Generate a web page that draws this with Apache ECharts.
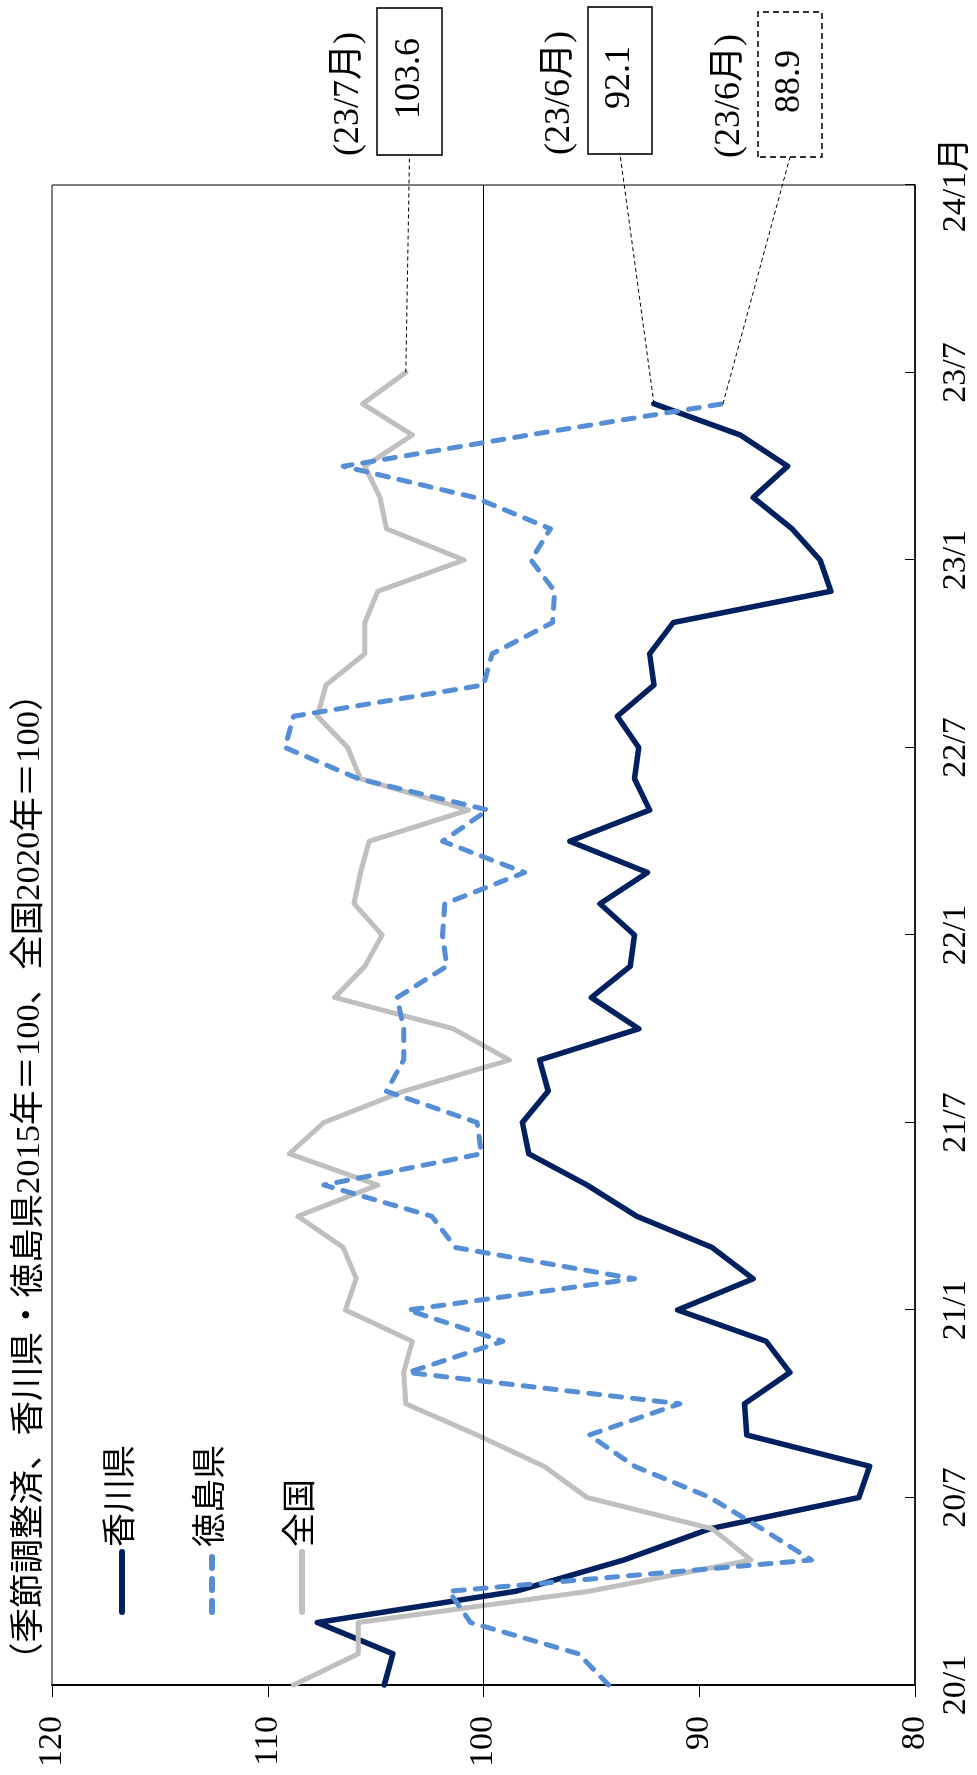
<!DOCTYPE html>
<html><head><meta charset="utf-8">
<script src="https://cdn.jsdelivr.net/npm/echarts@6/dist/echarts.min.js"></script>
<style>
html,body{margin:0;padding:0;background:#fff;}
#wrap{position:relative;width:977px;height:1775px;overflow:hidden;background:#fff;}
#chart{position:absolute;left:0;top:0;width:1775px;height:977px;transform-origin:0 0;transform:translate(0px,1775px) rotate(-90deg);}
</style></head><body><div id="wrap"><div id="chart"></div></div>
<script>
// ---- data (monthly, 2020/1 .. ) ----
const tickLabels = ['20/1','20/7','21/1','21/7','22/1','22/7','23/1','23/7','24/1月'];
const seriesNames = ['香川県','徳島県','全国'];
const kagawa = [104.6,104.2,107.7,98.5,93.5,89.5,82.6,82.1,87.8,87.9,85.8,86.9,
  91.0,87.5,89.4,92.9,95.2,97.9,98.2,97.0,97.4,92.8,95.0,93.2,
  93.0,94.6,92.4,96.0,92.3,93.0,92.8,93.8,92.1,92.3,91.2,83.9,
  84.4,85.7,87.5,85.9,88.1,92.1];
const tokushima = [94.2,95.6,100.6,101.6,84.8,87.1,89.5,93.0,95.1,90.9,103.5,99.1,
  103.5,93.0,101.3,102.4,107.4,100.1,100.3,104.5,103.7,103.7,104.0,101.7,
  101.9,101.8,98.1,101.9,99.8,105.8,109.2,108.8,100.0,99.6,96.8,96.7,
  97.8,96.9,100.4,106.5,97.9,88.9];
const national = [108.8,105.8,105.8,95.1,87.6,89.4,95.2,97.2,100.3,103.6,103.7,103.3,
  106.4,105.9,106.5,108.6,104.9,109.0,107.4,103.7,98.8,101.4,106.9,105.5,
  104.7,106.0,105.7,105.3,100.7,105.7,106.3,107.7,107.3,105.5,105.5,104.9,
  100.9,104.5,104.8,105.5,103.3,105.6,103.6];
const annDates = ['(23/7月)','(23/6月)','(23/6月)'];
const titleText = '（季節調整済、香川県・徳島県2015年＝100、全国2020年＝100）';

// month categories 20/1 .. 24/1
const categories = [];
for (let y = 20; y <= 24; y++) {
  for (let m = 1; m <= 12; m++) {
    if (y === 24 && m > 1) break;
    categories.push(y + '/' + m);
  }
}

const FONT = "'Liberation Serif','Noto Sans CJK JP',serif";
const chart = echarts.init(document.getElementById('chart'), null, {renderer:'canvas', width:1775, height:977});

chart.setOption({
  animation:false,
  backgroundColor:'#fff',
  title:{text:titleText, left:98, top:13, padding:0, textStyle:{fontSize:34.5, fontWeight:'normal', color:'#000', fontFamily:FONT}},
  legend:{orient:'vertical', left:160, top:105, padding:0, itemWidth:60, itemHeight:6, itemGap:56,
    data:seriesNames, itemStyle:{opacity:0},
    lineStyle:{width:6, cap:'round'},
    textStyle:{fontSize:34, color:'#000', fontFamily:FONT, lineHeight:34}},
  grid:{left:90, right:185, top:52, bottom:62, show:true, borderColor:'#000', borderWidth:1, containLabel:false, outerBoundsMode:'none'},
  xAxis:{type:'category', data:categories, boundaryGap:false,
    axisLine:{lineStyle:{color:'#000', width:1.5}},
    axisTick:{inside:true, length:10, interval:(i)=>i%6===0, lineStyle:{color:'#000', width:1}},
    axisLabel:{interval:(i)=>i%6===0, formatter:(v,i)=>tickLabels[i/6], margin:24, fontSize:34, color:'#000', fontFamily:FONT, showMinLabel:true, showMaxLabel:true},
    splitLine:{show:false}},
  yAxis:{type:'value', min:80, max:120, interval:10,
    axisLine:{show:true, lineStyle:{color:'#000', width:2}},
    axisTick:{show:true, length:12, lineStyle:{color:'#000', width:1}},
    axisLabel:{margin:31, fontSize:34, color:'#000', fontFamily:FONT},
    splitLine:{show:false}},
  series:[
    {name:'香川県', type:'line', data:kagawa, symbol:'none', z:3,
      lineStyle:{color:'#002060', width:5.5, cap:'round', join:'round'}, itemStyle:{color:'#002060'},
      markLine:{silent:true, symbol:['none','none'], label:{show:false}, lineStyle:{color:'#000', width:1, type:'solid'}, data:[{yAxis:100}]}},
    {name:'全国', type:'line', data:national, symbol:'none', z:4,
      lineStyle:{color:'#BFBFBF', width:5, cap:'round', join:'round'}, itemStyle:{color:'#BFBFBF'}},
    {name:'徳島県', type:'line', data:tokushima, symbol:'none', z:5,
      lineStyle:{color:'#558ED5', width:5, type:[11,11], cap:'round', join:'round'}, itemStyle:{color:'#558ED5'}}
  ]
});

// annotation boxes (layout in px), pointing at last values
const ann = [
  {series:national, box:{x:1620, y:377, w:147, h:65}, dateY:349, dashed:false, date:annDates[0]},
  {series:kagawa,   box:{x:1621, y:588, w:147, h:64}, dateY:560, dashed:false, date:annDates[1]},
  {series:tokushima,box:{x:1618, y:758, w:145, h:64}, dateY:730, dashed:true,  date:annDates[2]}
];
const graphics = [];
ann.forEach(a => {
  const idx = a.series.length - 1;
  const val = a.series[idx];
  const p = chart.convertToPixel({xAxisIndex:0, yAxisIndex:0}, [idx, val]);
  const b = a.box;
  graphics.push({type:'line', z:100, shape:{x1:p[0], y1:p[1], x2:b.x, y2:b.y + b.h/2},
    style:{stroke:'#000', lineWidth:1, lineDash:[4,3]}});
  graphics.push({type:'rect', z:101, shape:{x:b.x, y:b.y, width:b.w, height:b.h},
    style:{fill:'#fff', stroke:'#000', lineWidth:1.6, lineDash:a.dashed ? [6,4] : null}});
  graphics.push({type:'text', z:102, x:b.x + b.w/2 + 3, y:b.y + b.h/2,
    style:{text:val.toFixed(1), fill:'#000', fontSize:36, fontFamily:FONT, align:'center', verticalAlign:'middle', textAlign:'center', textVerticalAlign:'middle'}});
  graphics.push({type:'text', z:102, x:b.x + 61, y:a.dateY,
    style:{text:a.date, fill:'#000', fontSize:36, fontFamily:FONT, align:'center', verticalAlign:'middle', textAlign:'center', textVerticalAlign:'middle'}});
});
chart.setOption({graphic:graphics});
</script>
</body></html>
